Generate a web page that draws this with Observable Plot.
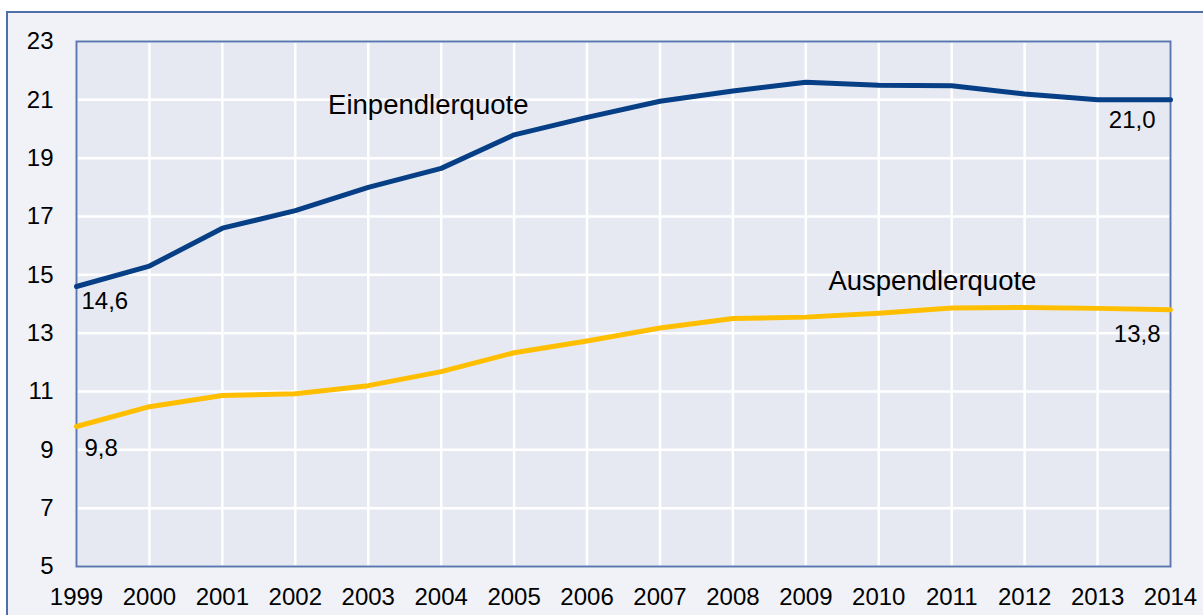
<!DOCTYPE html>
<html>
<head>
<meta charset="utf-8">
<script src="https://cdn.jsdelivr.net/npm/d3@7"></script>
<script src="https://cdn.jsdelivr.net/npm/@observablehq/plot@0.6"></script>
<style>
  html, body { margin: 0; padding: 0; background: #ffffff; overflow: hidden; }
  #outer { position: absolute; left: 6px; top: 11px; width: 1260px; height: 700px;
           border: 2px solid #4f6fa9; background: #f0f2f8; }
  #chart { position: absolute; left: 0; top: 0; }
  #chart svg { background: transparent; }
</style>
</head>
<body>
<div id="outer"></div>
<div id="chart"></div>
<script>
const years = [1999, 2000, 2001, 2002, 2003, 2004, 2005, 2006, 2007, 2008, 2009, 2010, 2011, 2012, 2013, 2014];
const einpendlerquote = [14.6, 15.3, 16.6, 17.2, 18.0, 18.65, 19.8, 20.4, 20.95, 21.3, 21.6, 21.5, 21.48, 21.2, 21.0, 21.0];
const auspendlerquote = [9.8, 10.48, 10.86, 10.92, 11.2, 11.68, 12.33, 12.73, 13.18, 13.5, 13.55, 13.68, 13.86, 13.88, 13.85, 13.8];
const yTicks = [5, 7, 9, 11, 13, 15, 17, 19, 21, 23];
const seriesNames = ["Einpendlerquote", "Auspendlerquote"];
const seriesLabelPos = [{x: 2002.45, y: 20.8}, {x: 2009.31, y: 14.78}];

const ein = years.map((yr, i) => ({year: yr, value: einpendlerquote[i]}));
const aus = years.map((yr, i) => ({year: yr, value: auspendlerquote[i]}));
const fmt = v => v.toFixed(1).replace(".", ",");

const nameLabels = seriesNames.map((n, i) => ({name: n, ...seriesLabelPos[i]}));
const ein0 = [ein[0]], ein1 = [ein[ein.length - 1]];
const aus0 = [aus[0]], aus1 = [aus[aus.length - 1]];

const font = "'Liberation Sans', Arial, sans-serif";

const chart = Plot.plot({
  width: 1203,
  height: 615,
  marginLeft: 76,
  marginRight: 33,
  marginTop: 41,
  marginBottom: 49,
  style: {fontFamily: font, fontSize: "24px", color: "#000", background: "transparent"},
  x: {domain: [1999, 2014], ticks: years, tickFormat: d => String(d), label: null},
  y: {domain: [5, 23], ticks: yTicks, label: null},
  marks: [
    Plot.frame({fill: "#e6e9f2", stroke: null}),
    Plot.gridX(years, {stroke: "#ffffff", strokeOpacity: 1, strokeWidth: 2.5}),
    Plot.gridY(yTicks, {stroke: "#ffffff", strokeOpacity: 1, strokeWidth: 2.5}),
    Plot.frame({stroke: "#5a77b0", strokeWidth: 2}),
    Plot.axisX({ticks: years, tickFormat: d => String(d), tickSize: 0, tickPadding: 21, fontSize: 24, label: null}),
    Plot.axisY({ticks: yTicks, tickSize: 0, tickPadding: 23, fontSize: 24, label: null}),
    Plot.line(aus, {x: "year", y: "value", stroke: "#ffbf00", strokeWidth: 5}),
    Plot.line(ein, {x: "year", y: "value", stroke: "#063f85", strokeWidth: 5}),
    Plot.text(nameLabels, {x: "x", y: "y", text: "name", textAnchor: "start", fontSize: 27.5, fill: "#000"}),
    Plot.text(ein0, {x: "year", y: "value", text: d => fmt(d.value), textAnchor: "start", dx: 5, dy: 15, fontSize: 24}),
    Plot.text(aus0, {x: "year", y: "value", text: d => fmt(d.value), textAnchor: "start", dx: 8, dy: 22, fontSize: 24}),
    Plot.text(ein1, {x: "year", y: "value", text: d => fmt(d.value), textAnchor: "end", dx: -15, dy: 20, fontSize: 24}),
    Plot.text(aus1, {x: "year", y: "value", text: d => fmt(d.value), textAnchor: "end", dx: -10, dy: 24, fontSize: 24})
  ]
});
document.getElementById("chart").appendChild(chart);
</script>
</body>
</html>
